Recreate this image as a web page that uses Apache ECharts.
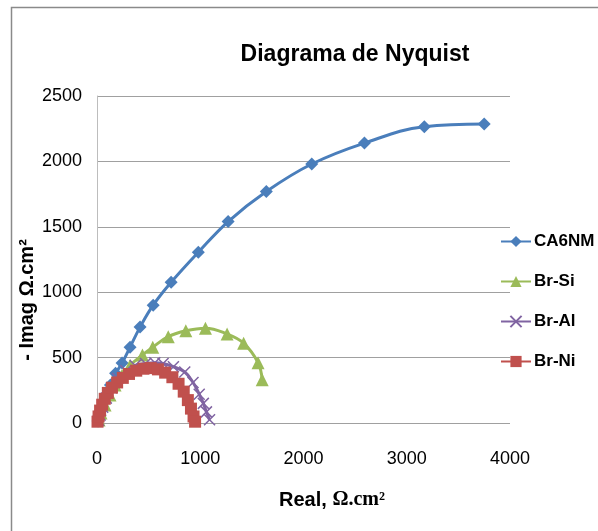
<!DOCTYPE html>
<html>
<head>
<meta charset="utf-8">
<script src="https://cdn.jsdelivr.net/npm/echarts@6/dist/echarts.min.js"></script>
<style>html,body{margin:0;padding:0;background:#fff;}#c{width:598px;height:531px;}</style>
</head>
<body>
<div id="c"></div>
<script>
var title = 'Diagrama de Nyquist';
var xAxisName = 'Real, ';
var xAxisUnit = 'Ω.cm²';
var yAxisName = '- Imag Ω.cm²';
var seriesNames = ['CA6NM', 'Br-Si', 'Br-Al', 'Br-Ni'];
var xTicks = [0, 1000, 2000, 3000, 4000];
var yTicks = [0, 500, 1000, 1500, 2000, 2500];

var ca6nmX = [10, 30, 55, 90, 130, 180, 243, 320, 417, 544, 718, 981, 1270, 1640, 2080, 2590, 3170, 3750];
var ca6nmY = [15, 60, 120, 200, 290, 380, 458, 580, 733, 901, 1076, 1305, 1540, 1770, 1980, 2140, 2265, 2285];

var brSiX = [20, 39, 78, 126, 175, 243, 320, 440, 540, 690, 860, 1050, 1260, 1420, 1560, 1600];
var brSiY = [23, 76, 137, 214, 290, 366, 440, 520, 580, 660, 705, 725, 680, 610, 460, 330];

var brAlX = [15, 30, 55, 90, 140, 200, 280, 370, 470, 560, 640, 740, 850, 930, 990, 1030, 1060, 1090];
var brAlY = [20, 60, 120, 190, 270, 340, 400, 440, 455, 460, 455, 430, 390, 310, 220, 150, 85, 25];

var brNiX = [5, 15, 30, 50, 75, 105, 145, 195, 250, 310, 380, 450, 520, 590, 660, 730, 790, 840, 880, 910, 935, 950];
var brNiY = [10, 50, 95, 140, 185, 230, 270, 310, 345, 375, 400, 415, 420, 410, 385, 350, 300, 240, 175, 110, 50, 10];

function zip(xs, ys) { return xs.map(function (x, i) { return [x, ys[i]]; }); }

var colors = ['#4A7EBB', '#9BBB59', '#8064A2', '#C0504D'];
var font = "'Liberation Sans', Arial, sans-serif";

var chart = echarts.init(document.getElementById('c'), null, {renderer: 'canvas'});
chart.setOption({
  animation: false,
  backgroundColor: '#ffffff',
  color: colors,
  graphic: [{
    type: 'rect', left: 9, top: 5, silent: true,
    shape: {width: 800, height: 800},
    style: {fill: 'none', stroke: '#8a8a8a', lineWidth: 1.5}
  }, {
    type: 'text', x: 27, y: 300, rotation: Math.PI / 2, silent: true,
    style: {text: yAxisName, fontFamily: font, fontWeight: 'bold', fontSize: 20, fill: '#000',
            align: 'center', verticalAlign: 'middle'}
  }, {
    type: 'text', x: 332, y: 500, silent: true,
    style: {
      text: '{a|' + xAxisName + '}{b|' + xAxisUnit + '}',
      align: 'center', verticalAlign: 'middle',
      rich: {
        a: {fontFamily: font, fontWeight: 'bold', fontSize: 20, fill: '#000'},
        b: {fontFamily: "'Liberation Serif', 'Times New Roman', serif", fontWeight: 'bold', fontSize: 20, fill: '#000'}
      }
    }
  }],
  title: {
    text: title, left: 350, top: 38, textAlign: 'center',
    textStyle: {fontFamily: font, fontWeight: 'bold', fontSize: 23, color: '#000'}
  },
  legend: {
    orient: 'vertical', left: 495, top: 228, itemGap: 23,
    itemWidth: 30, itemHeight: 14,
    data: seriesNames,
    textStyle: {fontFamily: font, fontWeight: 'bold', fontSize: 17, color: '#000', padding: [0, 0, 0, -2]}
  },
  grid: {left: 97, right: 88, top: 96, bottom: 108, containLabel: false},
  xAxis: {
    type: 'value', min: xTicks[0], max: xTicks[xTicks.length - 1], interval: 1000,
    axisLine: {show: false}, axisTick: {show: false}, splitLine: {show: false},
    axisLabel: {fontFamily: font, fontSize: 18, color: '#000', margin: 27,
      formatter: function (v) { return String(v); }}
  },
  yAxis: {
    type: 'value', min: yTicks[0], max: yTicks[yTicks.length - 1], interval: 500,
    axisLine: {show: true, lineStyle: {color: '#bdbdbd', width: 1}},
    axisTick: {show: false},
    splitLine: {show: true, lineStyle: {color: '#a0a0a0', width: 1}},
    axisLabel: {fontFamily: font, fontSize: 18, color: '#000', margin: 15,
      formatter: function (v) { return String(v); }}
  },
  series: [
    {name: seriesNames[0], type: 'line', smooth: 0.4, data: zip(ca6nmX, ca6nmY),
     symbol: 'diamond', symbolSize: 13, lineStyle: {width: 3},
     itemStyle: {color: colors[0]}},
    {name: seriesNames[1], type: 'line', smooth: 0.4, data: zip(brSiX, brSiY),
     symbol: 'triangle', symbolSize: 13, lineStyle: {width: 3},
     itemStyle: {color: colors[1]}},
    {name: seriesNames[2], type: 'line', smooth: 0.4, data: zip(brAlX, brAlY),
     symbol: 'path://M0,0L10,10M10,0L0,10', symbolSize: 11, lineStyle: {width: 3, color: colors[2]},
     itemStyle: {color: 'none', borderColor: colors[2], borderWidth: 1.5}},
    {name: seriesNames[3], type: 'line', smooth: 0.4, data: zip(brNiX, brNiY),
     symbol: 'rect', symbolSize: 12, lineStyle: {width: 3},
     itemStyle: {color: colors[3]}}
  ]
});
</script>
</body>
</html>
